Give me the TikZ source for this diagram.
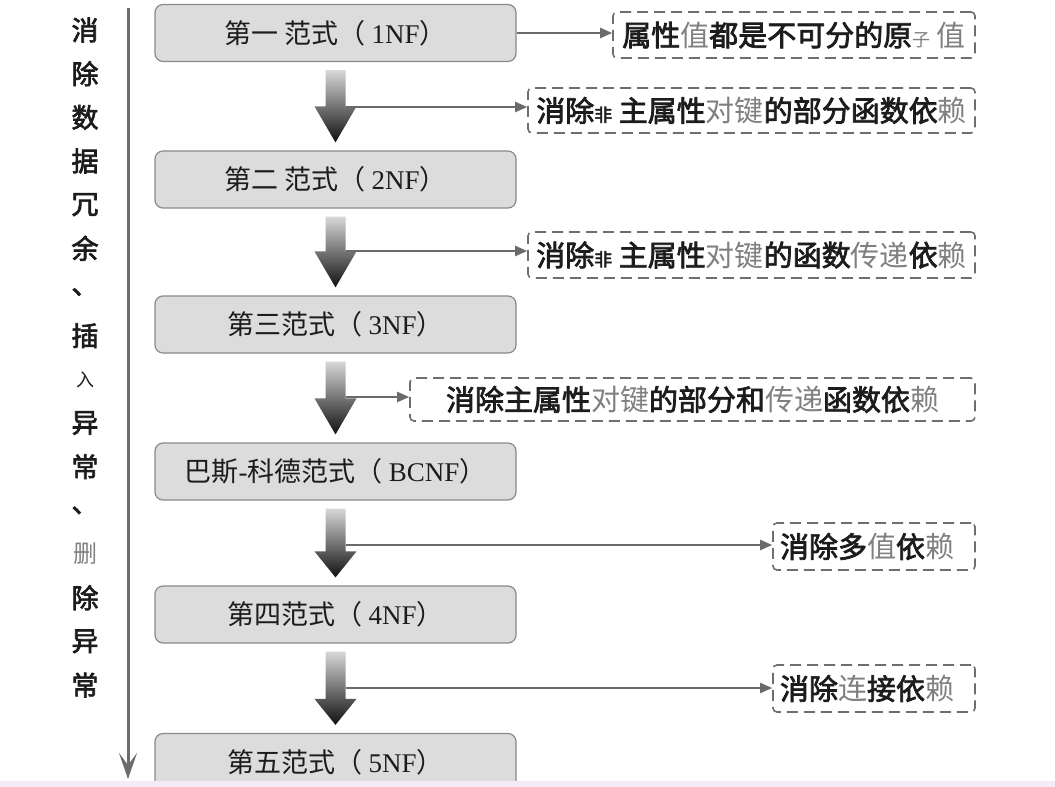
\documentclass[tikz,border=0pt]{standalone}
\usepackage{fontspec}
\setmainfont{Liberation Serif}
\newfontfamily\cjk{Noto Sans CJK SC}
\newfontfamily\cjkb[FakeBold=2.5]{Noto Sans CJK SC}
\usetikzlibrary{arrows.meta,calc}
\definecolor{boxfill}{HTML}{DCDCDC}
\definecolor{boxdraw}{HTML}{8A8A8A}
\definecolor{textc}{HTML}{1C1C1C}
\definecolor{dashc}{HTML}{6E6E6E}
\definecolor{connc}{HTML}{6A6A6A}
\definecolor{lightc}{HTML}{808080}
\definecolor{arrtop}{HTML}{D8D8D8}
\definecolor{arrmid}{HTML}{555555}
\definecolor{arrbot}{HTML}{101010}
\definecolor{leftc}{HTML}{6C6C6C}
\definecolor{pinkc}{HTML}{F4ECF4}
\newcommand\zh[1]{{\cjk #1}}
\newcommand\lgt[1]{{\cjk\color{lightc}#1}}
\newcommand\smallch[1]{{\fontsize{18}{20}\selectfont #1}}
\newcommand\bigarr[3]{%
  \shade[top color=arrtop, middle color=arrmid, bottom color=arrbot]
    let \p1=($(#1.south)+(0,8)$), \p2=($(#2.north)+(0,-8)$) in
    (\x1-10pt,\y1) -- (\x1+10pt,\y1) -- (\x1+10pt,\y2+#3pt) -- (\x1+21pt,\y2+#3pt)
    -- (\x1,\y2) -- (\x1-21pt,\y2+#3pt) -- (\x1-10pt,\y2+#3pt) -- cycle;}
\tikzset{
  nf/.style={draw=boxdraw, fill=boxfill, rounded corners=8pt, line width=1.2pt,
    minimum width=361pt, minimum height=57pt, inner sep=0pt,
    font=\fontsize{27}{30}\selectfont, text=textc},
  dbox/.style={draw=dashc, dash pattern=on 11pt off 6pt, line width=1.6pt,
    rounded corners=4pt, minimum height=46pt, inner sep=0pt,
    font=\cjkb\fontsize{29}{32}\selectfont, text=textc},
  conn/.style={draw=connc, line width=2pt, -{Triangle[length=12pt,width=10pt]}},
  leftarrow/.style={draw=leftc, line width=3pt, -{Stealth[length=26pt,width=18pt,inset=12pt]}},
  vch/.style={font=\cjkb\fontsize{27}{30}\selectfont, text=textc, inner sep=0pt}
}
\begin{document}
\begin{tikzpicture}[x=1pt,y=-1pt]
\fill[white] (0,0) rectangle (1055,787);
\useasboundingbox (0,0) rectangle (1055,787);
% left arrow and vertical text
\coordinate (la) at (128,8);
\coordinate (lb) at (128,779);
\draw[leftarrow] (la) -- (lb);
\foreach \c [count=\i] in {消,除,数,据,冗,余,、,插,{\smallch{\cjk 入}},异,常,、,{\lgt{\fontsize{24}{26}\selectfont 删}},除,异,常}
  \node[vch] (v\i) at (85,{30+(\i-1)*43.67}) {\c};
% normal form boxes
\node[nf] (n1) at (335.5,33)    {\zh{第一 范式（ }1NF\zh{）}};
\node[nf] (n2) at (335.5,179.5) {\zh{第二 范式（ }2NF\zh{）}};
\node[nf] (n3) at (335.5,324.5) {\zh{第三范式（ }3NF\zh{）}};
\node[nf] (n4) at (335.5,471.5) {\zh{巴斯}-\zh{科德范式（ }BCNF\zh{）}};
\node[nf] (n5) at (335.5,614.5) {\zh{第四范式（ }4NF\zh{）}};
\node[nf] (n6) at (335.5,762)   {\zh{第五范式（ }5NF\zh{）}};
% big arrows
\bigarr{n1}{n2}{36}
\bigarr{n2}{n3}{36}
\bigarr{n3}{n4}{36}
\bigarr{n4}{n5}{26}
\bigarr{n5}{n6}{26}
% dashed boxes
\node[dbox, minimum width=362pt] (d1) at (794,35) {属性\lgt{值}都是不可分的原\smallch{\lgt{子}} \lgt{值}};
\node[dbox, minimum width=447pt, minimum height=45pt] (d2) at (751.5,110.5) {消除\smallch{非} 主属性\lgt{对键}的部分函数依\lgt{赖}};
\node[dbox, minimum width=447pt] (d3) at (751.5,255) {消除\smallch{非} 主属性\lgt{对键}的函数\lgt{传递}依\lgt{赖}};
\node[dbox, minimum width=565pt, minimum height=43pt] (d4) at (692.5,399.5) {消除主属性\lgt{对键}的部分和\lgt{传递}函数依\lgt{赖}};
\node[dbox, minimum width=202pt, minimum height=47pt, text width=188pt, align=left] (d5) at (874,546.5) {消除多\lgt{值}依\lgt{赖}};
\node[dbox, minimum width=202pt, minimum height=47pt, text width=188pt, align=left] (d6) at (874,688.5) {消除\lgt{连}接依\lgt{赖}};
% connectors
\coordinate (s1) at (346,107);
\coordinate (s2) at (346,251);
\coordinate (s3) at (346,397);
\coordinate (s4) at (346,545);
\coordinate (s5) at (346,688);
\draw[conn] (n1.east) -- (n1.east -| d1.west);
\draw[conn] (s1) -- (s1 -| d2.west);
\draw[conn] (s2) -- (s2 -| d3.west);
\draw[conn] (s3) -- (s3 -| d4.west);
\draw[conn] (s4) -- (s4 -| d5.west);
\draw[conn] (s5) -- (s5 -| d6.west);
% bottom strip
\fill[pinkc] (0,781) rectangle (1055,787);
\end{tikzpicture}
\end{document}
